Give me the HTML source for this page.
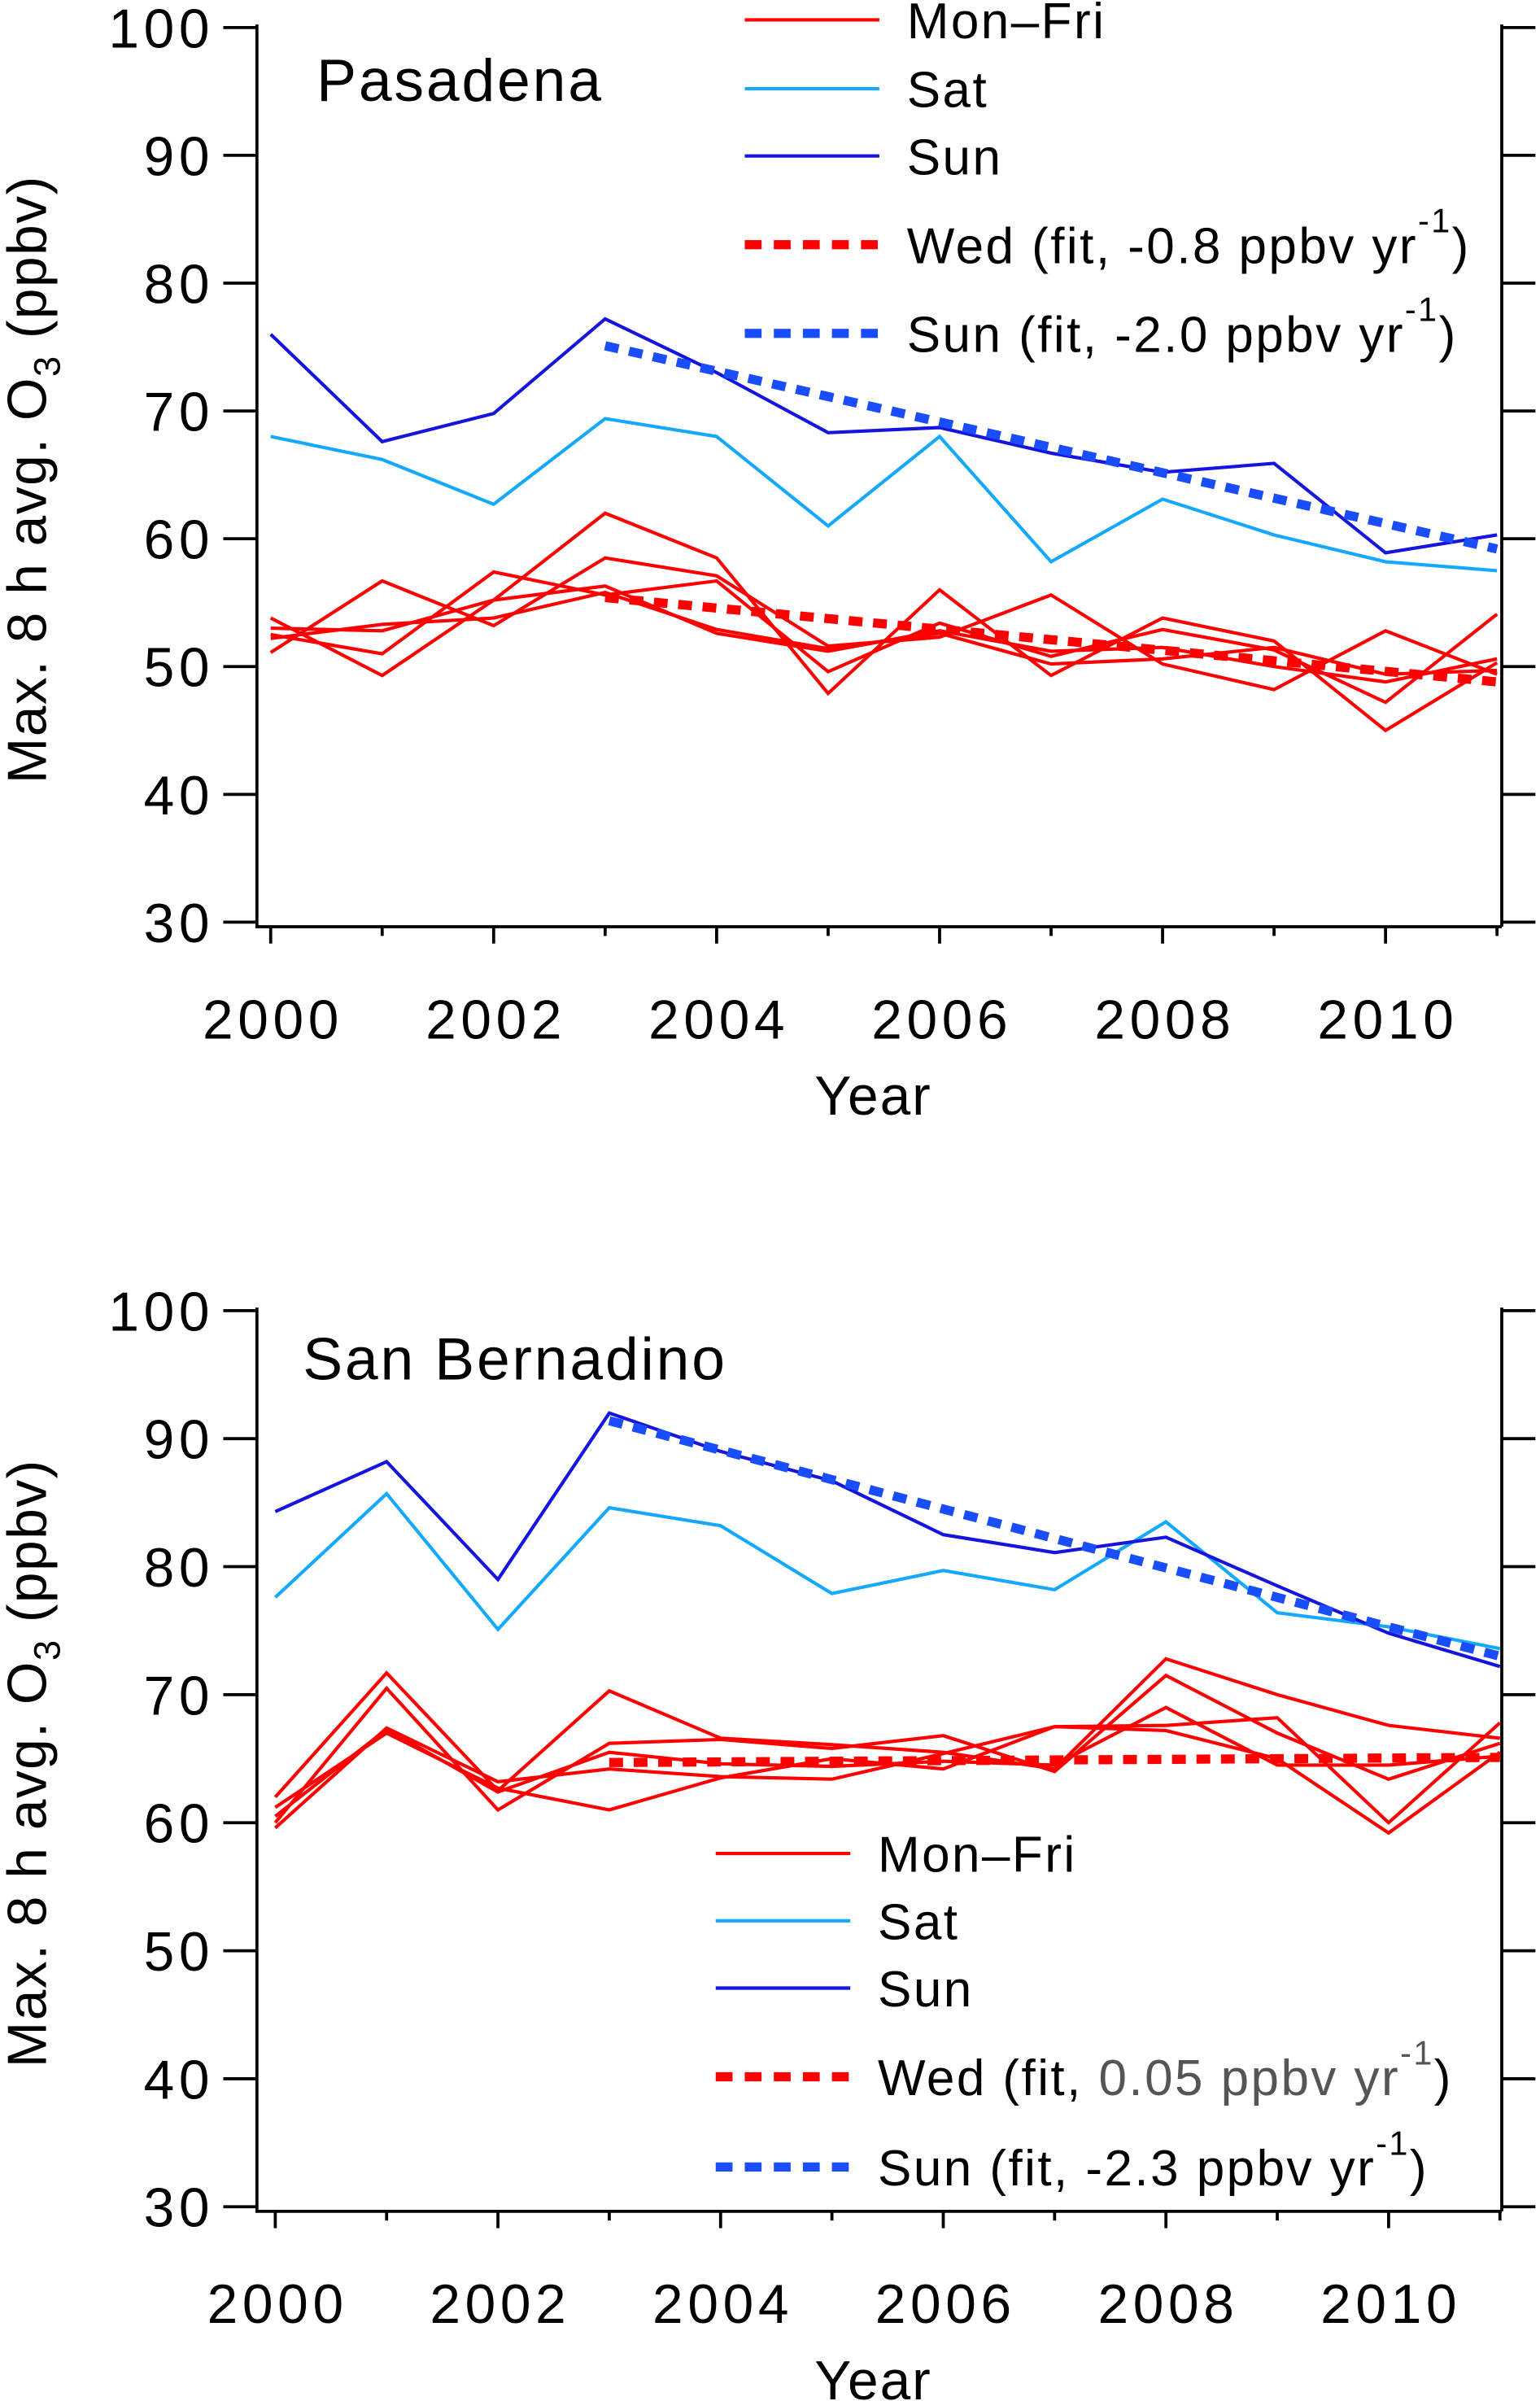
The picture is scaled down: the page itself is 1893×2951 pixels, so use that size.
<!DOCTYPE html>
<html><head><meta charset="utf-8">
<style>
html,body{margin:0;padding:0;background:#fff;}
svg{display:block;font-family:"Liberation Sans","DejaVu Sans",sans-serif;}
</style></head>
<body>
<svg id="chart" width="1893" height="2951" viewBox="0 0 1007 1570" preserveAspectRatio="none" xmlns="http://www.w3.org/2000/svg"></svg>
<script>
const years = [2000,2001,2002,2003,2004,2005,2006,2007,2008,2009,2010,2011];
const yTicks = [30,40,50,60,70,80,90,100];
const xTickLabels = [2000,2002,2004,2006,2008,2010];

const pasSun = [76,67.6,69.8,77.2,73,68.3,68.7,66.7,65.2,65.9,58.9,60.3];
const pasSat = [68,66.2,62.7,69.4,68,61,68,58.2,63.1,60.3,58.2,57.5];
const pasWk1 = [53.8,49.3,55.2,62.0,58.5,47.9,56.0,49.3,53.8,52.0,45.0,50.3];
const pasWk2 = [51.1,56.7,53.2,58.5,57.1,51.6,52.3,55.6,50.2,48.2,52.8,49.4];
const pasWk3 = [52.5,51.0,57.4,55.6,56.7,49.6,53.4,50.8,52.9,51.3,47.2,54.1];
const pasWk4 = [53.0,52.8,55.2,56.3,52.6,51.2,52.8,51.2,51.5,50.0,48.8,50.6];
const pasWk5 = [52.2,53.3,53.8,55.8,52.9,51.4,52.6,50.2,50.6,51.5,49.4,49.7];
const pasWedFit = [55.4,48.8];
const pasSunFit = [75.1,59.2];

const sbSun = [84.3,88.2,79.0,92.0,89.0,86.7,82.5,81.1,82.3,78.5,74.8,72.2];
const sbSat = [77.6,85.7,75.1,84.6,83.2,77.9,79.7,78.2,83.5,76.4,75.3,73.6];
const sbWk1 = [62.0,71.7,62.5,70.3,66.6,66.1,65.5,64.2,72.8,70.0,67.6,66.6];
const sbWk2 = [60.0,70.5,61.0,66.2,66.5,65.8,66.8,64.0,71.5,67.0,63.4,66.2];
const sbWk3 = [59.6,67.4,63.2,64.2,63.6,63.4,65.4,67.5,67.6,68.2,60.0,67.8];
const sbWk4 = [61.2,67.0,62.7,61.0,63.5,65.0,64.2,67.5,67.2,65.0,59.2,65.5];
const sbWk5 = [60.5,67.3,62.4,65.5,64.6,64.4,64.8,64.5,69.0,64.5,64.5,65.2];
const sbWedFit = [64.7,65.1];
const sbSunFit = [91.4,73.0];
const fitYears = [2003,2011];

const NS="http://www.w3.org/2000/svg";
const svg=document.getElementById('chart');
function mk(tag,attrs,parent){const e=document.createElementNS(NS,tag);for(const k in attrs)e.setAttribute(k,attrs[k]);(parent||svg).appendChild(e);return e;}

function panel(cfg){
  const g=mk('g',{});
  
  
  const L=cfg.left,R=cfg.right,T=cfg.top,B=cfg.bottom,x0=cfg.x0,x10=cfg.x10;
  const sx=v=>x0+(v-2000)*(x10-x0)/10;
  const sy=v=>B-(v-30)*(B-T)/70;
  const ax=mk('path',{d:`M${L},${T-2}V${B+3}H${R}M${R},${T-2}V${B+3}`,stroke:'#000','stroke-width':2,fill:'none'},g);
  
  
  yTicks.forEach(t=>{
    const y=sy(t);
    mk('line',{x1:L-22,x2:L,y1:y,y2:y,stroke:'#000','stroke-width':2},g);
    mk('line',{x1:R,x2:R+22,y1:y,y2:y,stroke:'#000','stroke-width':2},g);
    const tx=mk('text',{x:L-28,y:y+13,'text-anchor':'end','font-size':36,'letter-spacing':3},g);
    tx.textContent=t;
    
    
  });
  years.forEach(yr=>{
    const x=sx(yr);
    const major=(yr%2===0);
    mk('line',{x1:x,x2:x,y1:B+3,y2:B+(major?14:9),stroke:'#000','stroke-width':2},g);
  });
  xTickLabels.forEach(yr=>{
    const tx=mk('text',{x:sx(yr)+1.5,y:B+76,'text-anchor':'middle','font-size':36,'letter-spacing':3},g);
    tx.textContent=yr;
    
    
  });
  const xt=mk('text',{x:(L+R)/2-4,y:B+126,'text-anchor':'middle','font-size':36,'letter-spacing':1},g);
  xt.textContent='Year';
  
  
  const yt=mk('text',{transform:`translate(${30},${(T+B)/2+3}) rotate(-90)`,'text-anchor':'middle','font-size':36,'letter-spacing':0.8},g);
  yt.innerHTML='Max. 8 h avg. O<tspan font-size="24" dy="9">3</tspan><tspan dy="-9"> (ppbv)</tspan>';
  
  
  const tt=mk('text',{x:cfg.titleX,y:cfg.titleY,'font-size':39,'letter-spacing':1.5},g);
  tt.textContent=cfg.title;
  
  
  function line(vals,color,name){
    const p=mk('polyline',{points:vals.map((v,i)=>sx(years[i])+','+sy(v)).join(' '),fill:'none',stroke:color,'stroke-width':2.2},g);
    
    
  }
  cfg.wk.forEach((w,i)=>line(w,'#ff0000','weekday-line-'+(i+1)));
  line(cfg.sat,'#14a9ff','sat-line');
  line(cfg.sun,'#1515dd','sun-line');
  function fit(vals,color,name){
    const p=mk('line',{x1:sx(fitYears[0]),y1:sy(vals[0]),x2:sx(fitYears[1]),y2:sy(vals[1]),stroke:color,'stroke-width':6,'stroke-dasharray':'9,7'},g);
    
    
  }
  fit(cfg.wedFit,'#ff0000','wed-fit-line');
  fit(cfg.sunFit,'#1a4dff','sun-fit-line');
  const lg=mk('g',{},g);
  
  
  const lx=cfg.legX, ys=cfg.legY;
  const entries=[
    ['#ff0000',false,'Mon\u2013Fri'],
    ['#14a9ff',false,'Sat'],
    ['#1515dd',false,'Sun'],
    ['#ff0000',true,cfg.wedLabel],
    ['#1a4dff',true,cfg.sunLabel]];
  entries.forEach((e,i)=>{
    const y=ys[i];
    if(e[1]) mk('line',{x1:lx,x2:lx+88,y1:y,y2:y,stroke:e[0],'stroke-width':6,'stroke-dasharray':'11,8'},lg);
    else mk('line',{x1:lx,x2:lx+88,y1:y,y2:y,stroke:e[0],'stroke-width':2.2},lg);
    const t=mk('text',{x:lx+106,y:y+12,'font-size':33,'letter-spacing':1.3},lg);
    t.innerHTML=e[2];
    
    
  });
}

panel({name:'pasadena-panel',title:'Pasadena',titleX:207,titleY:66,left:168,right:982,top:18,bottom:603,x0:177,x10:906,
  sun:pasSun,sat:pasSat,wk:[pasWk1,pasWk2,pasWk3,pasWk4,pasWk5],wedFit:pasWedFit,sunFit:pasSunFit,
  legX:487,legY:[13,58,102,160,218],
  wedLabel:'Wed (fit, -0.8 ppbv yr<tspan font-size="22" dy="-20">-1</tspan><tspan dy="20">)</tspan>',
  sunLabel:'Sun (fit, -2.0 ppbv yr<tspan font-size="22" dy="-20">-1</tspan><tspan dy="20">)</tspan>'});
panel({name:'san-bernadino-panel',title:'San Bernadino',titleX:198,titleY:902,left:168,right:982,top:857,bottom:1443,x0:180,x10:908,
  sun:sbSun,sat:sbSat,wk:[sbWk1,sbWk2,sbWk3,sbWk4,sbWk5],wedFit:sbWedFit,sunFit:sbSunFit,
  legX:468,legY:[1212,1256,1300,1358,1417],
  wedLabel:'Wed (fit, <tspan fill="#555">0.05 ppbv yr</tspan><tspan font-size="22" dy="-20" fill="#555">-1</tspan><tspan dy="20">)</tspan>',
  sunLabel:'Sun (fit, -2.3 ppbv yr<tspan font-size="22" dy="-20">-1</tspan><tspan dy="20">)</tspan>'});
</script>
</body></html>
